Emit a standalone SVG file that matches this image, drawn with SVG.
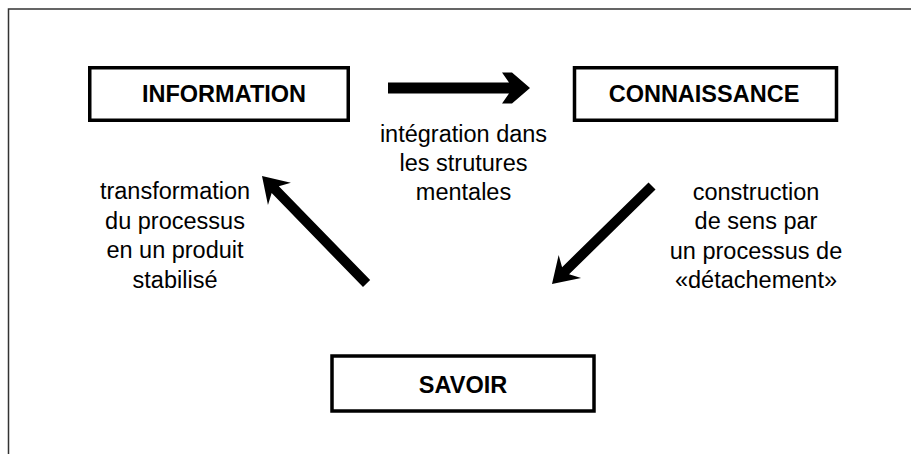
<svg xmlns="http://www.w3.org/2000/svg" width="911" height="454" viewBox="0 0 911 454">
<style>
.box{fill:#fff;stroke:#000;stroke-width:3.5}
.lbl{font-family:"Liberation Sans",Arial,sans-serif;font-weight:bold;font-size:23.5px;fill:#000;text-anchor:middle}
.txt{font-family:"Liberation Sans",Arial,sans-serif;font-size:23.5px;fill:#000;text-anchor:middle}
.arr{fill:#000}
.frame{stroke:#333;stroke-width:1.5;fill:none}
</style>
<rect width="911" height="454" fill="#fff"/>
<path class="frame" d="M8.5,454 L8.5,9 L911,9"/>
<g id="information">
<rect class="box" x="89.75" y="67.75" width="258.5" height="52.5"/>
<text class="lbl" x="224" y="102">INFORMATION</text>
</g>
<g id="connaissance">
<rect class="box" x="574.5" y="67.75" width="262" height="52.5"/>
<text class="lbl" x="704" y="102">CONNAISSANCE</text>
</g>
<g id="savoir">
<rect class="box" x="332" y="356" width="262" height="55"/>
<text class="lbl" x="463" y="393">SAVOIR</text>
</g>
<g id="connectors">
<path class="arr" d="M388,82.5 L509,82.5 L502,72.5 L512,72.5 L530,88 L512,103.5 L502,103.5 L509,93.5 L388,93.5 Z"/>
<path class="arr" transform="translate(262,176) rotate(225.8)" d="M0,0 L-25,-16 L-19,-5 L-150,-5 L-150,5 L-19,5 L-25,16 Z"/>
<path class="arr" transform="translate(552,284) rotate(135.6)" d="M0,0 L-25,-16 L-19,-5 L-140,-5 L-140,5 L-19,5 L-25,16 Z"/>
</g>
<g id="labels">
<text class="txt" x="463.5" y="142">intégration dans</text>
<text class="txt" x="463.5" y="171">les strutures</text>
<text class="txt" x="463.5" y="200">mentales</text>
<text class="txt" x="175" y="199">transformation</text>
<text class="txt" x="175" y="228.5">du processus</text>
<text class="txt" x="175" y="258">en un produit</text>
<text class="txt" x="175" y="287.5">stabilisé</text>
<text class="txt" x="756" y="199.5">construction</text>
<text class="txt" x="756" y="229">de sens par</text>
<text class="txt" x="756" y="258.5">un processus de</text>
<text class="txt" x="756" y="288">«détachement»</text>
</g>
</svg>
